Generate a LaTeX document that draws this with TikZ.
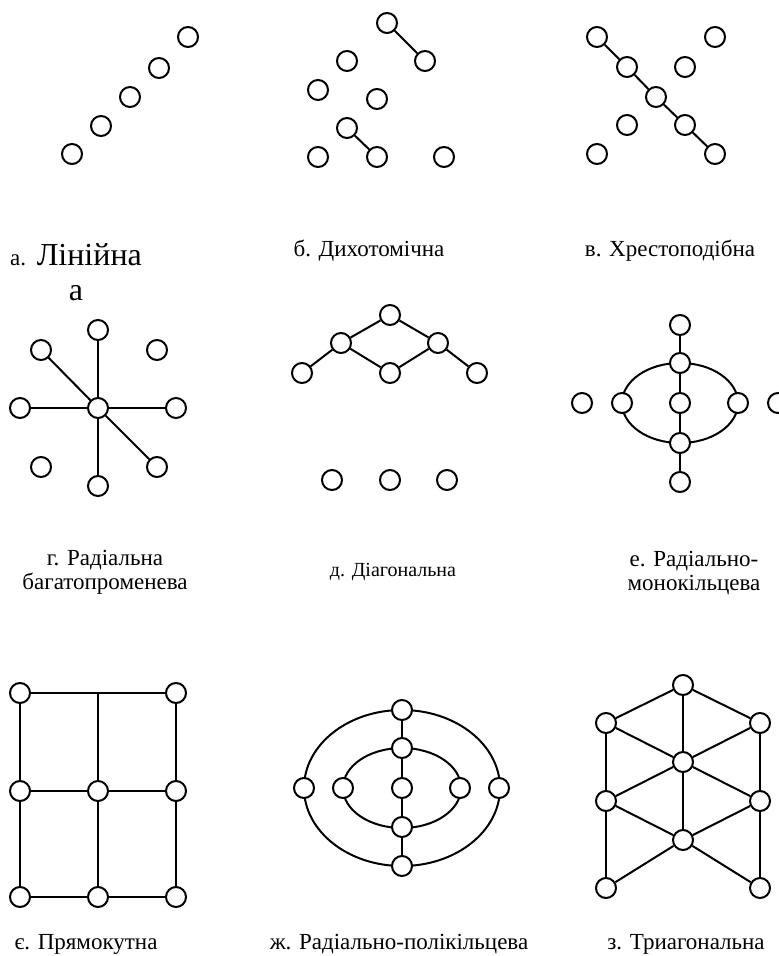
\documentclass[tikz,border=0pt]{standalone}
\usepackage{fontspec}
\setmainfont{Liberation Serif}
\usetikzlibrary{backgrounds}

\begin{document}
\begin{tikzpicture}[
  x=0.5pt, y=-0.5pt,
  vert/.style={circle, draw, fill=white, line width=1pt, minimum size=10pt, inner sep=0pt},
  link/.style={line width=1pt},
  caption/.style={align=center, inner sep=0pt, font=\fontsize{11.5}{12}\selectfont},
  bigcap/.style={caption, font=\fontsize{16}{17.5}\selectfont},
  smallcap/.style={caption, font=\fontsize{10}{12}\selectfont}
]
  \useasboundingbox (0,0) rectangle (779,956);

  \node[vert] (lin1) at (72,154) {};
  \node[vert] (lin2) at (101,126) {};
  \node[vert] (lin3) at (130,97) {};
  \node[vert] (lin4) at (159,68) {};
  \node[vert] (lin5) at (188,37) {};
  \node[bigcap] (caplin) at (76,272) {{\fontsize{11.5}{12}\selectfont а.} Лінійна\\а};

  \node[vert] (dich1) at (387,23) {};
  \node[vert] (dich2) at (425,61) {};
  \node[vert] (dich3) at (347,61) {};
  \node[vert] (dich4) at (318,90) {};
  \node[vert] (dich5) at (377,99) {};
  \node[vert] (dich6) at (347,128) {};
  \node[vert] (dich7) at (318,157) {};
  \node[vert] (dich8) at (377,157) {};
  \node[vert] (dich9) at (444,157) {};
  \node[caption] (capdich) at (369,251) {б. Дихотомічна};

  \draw[link] (dich1) -- (dich2);
  \draw[link] (dich6) -- (dich8);

  \node[vert] (cross1) at (597,37) {};
  \node[vert] (cross2) at (715,37) {};
  \node[vert] (cross3) at (627,67) {};
  \node[vert] (cross4) at (685,67) {};
  \node[vert] (cross5) at (656,97) {};
  \node[vert] (cross6) at (627,125) {};
  \node[vert] (cross7) at (685,125) {};
  \node[vert] (cross8) at (597,154) {};
  \node[vert] (cross9) at (715,154) {};
  \node[caption] (capcross) at (670,251) {в. Хрестоподібна};

  \draw[link] (cross1) -- (cross3);
  \draw[link] (cross3) -- (cross5);
  \draw[link] (cross5) -- (cross7);
  \draw[link] (cross7) -- (cross9);

  \node[vert] (star0) at (98,408) {};
  \node[vert] (star1) at (98,330) {};
  \node[vert] (star2) at (41,350) {};
  \node[vert] (star3) at (157,350) {};
  \node[vert] (star4) at (20,408) {};
  \node[vert] (star5) at (176,408) {};
  \node[vert] (star6) at (41,467) {};
  \node[vert] (star7) at (157,467) {};
  \node[vert] (star8) at (98,486) {};
  \node[caption] (capstar) at (105,572) {г. Радіальна\\багатопроменева};

  \draw[link] (star0) -- (star1);
  \draw[link] (star0) -- (star2);
  \draw[link] (star0) -- (star4);
  \draw[link] (star0) -- (star5);
  \draw[link] (star0) -- (star7);
  \draw[link] (star0) -- (star8);

  \node[vert] (diag1) at (390,315) {};
  \node[vert] (diag2) at (341,343) {};
  \node[vert] (diag3) at (438,343) {};
  \node[vert] (diag4) at (302,373) {};
  \node[vert] (diag5) at (390,373) {};
  \node[vert] (diag6) at (477,373) {};
  \node[vert] (diag7) at (332,480) {};
  \node[vert] (diag8) at (390,480) {};
  \node[vert] (diag9) at (447,480) {};
  \node[smallcap] (capdiag) at (393,572) {д. Діагональна};

  \draw[link] (diag4) -- (diag2);
  \draw[link] (diag2) -- (diag1);
  \draw[link] (diag1) -- (diag3);
  \draw[link] (diag3) -- (diag6);
  \draw[link] (diag2) -- (diag5);
  \draw[link] (diag5) -- (diag3);

  \node[vert] (mono1) at (680,325) {};
  \node[vert] (mono2) at (680,363) {};
  \node[vert] (mono3) at (582,403) {};
  \node[vert] (mono4) at (622,403) {};
  \node[vert] (mono5) at (680,403) {};
  \node[vert] (mono6) at (738,403) {};
  \node[vert] (mono7) at (778,403) {};
  \node[vert] (mono8) at (680,443) {};
  \node[vert] (mono9) at (680,482) {};
  \node[caption] (capmono) at (694,573) {е. Радіально-\\монокільцева};

  \draw[link] (mono1) -- (mono2);
  \draw[link] (mono2) -- (mono5);
  \draw[link] (mono5) -- (mono8);
  \draw[link] (mono8) -- (mono9);
  \begin{scope}[on background layer]
    \draw[link] (mono5.center) ellipse [x radius=29pt, y radius=20pt];
  \end{scope}

  \node[vert] (rect1) at (20,693) {};
  \node[vert] (rect2) at (176,693) {};
  \node[vert] (rect3) at (20,791) {};
  \node[vert] (rect4) at (98,791) {};
  \node[vert] (rect5) at (176,791) {};
  \node[vert] (rect6) at (20,897) {};
  \node[vert] (rect7) at (98,897) {};
  \node[vert] (rect8) at (176,897) {};
  \coordinate (recttop) at (98,693);
  \node[caption] (caprect) at (86,944) {є. Прямокутна};

  \draw[link] (rect1) -- (rect2);
  \draw[link] (rect3) -- (rect4);
  \draw[link] (rect4) -- (rect5);
  \draw[link] (rect6) -- (rect7);
  \draw[link] (rect7) -- (rect8);
  \draw[link] (rect1) -- (rect3);
  \draw[link] (rect3) -- (rect6);
  \draw[link] (rect2) -- (rect5);
  \draw[link] (rect5) -- (rect8);
  \draw[link] (recttop) -- (rect4);
  \draw[link] (rect4) -- (rect7);

  \node[vert] (poly1) at (402,710) {};
  \node[vert] (poly2) at (402,748) {};
  \node[vert] (poly3) at (304,788) {};
  \node[vert] (poly4) at (343,788) {};
  \node[vert] (poly5) at (402,788) {};
  \node[vert] (poly6) at (460,788) {};
  \node[vert] (poly7) at (499,788) {};
  \node[vert] (poly8) at (402,827) {};
  \node[vert] (poly9) at (402,866) {};
  \node[caption] (cappoly) at (399,944) {ж. Радіально-полікільцева};

  \draw[link] (poly1) -- (poly2);
  \draw[link] (poly2) -- (poly5);
  \draw[link] (poly5) -- (poly8);
  \draw[link] (poly8) -- (poly9);
  \begin{scope}[on background layer]
    \draw[link] (poly5.center) ellipse [x radius=49pt, y radius=39pt];
    \draw[link] (poly5.center) ellipse [x radius=29.5pt, y radius=20pt];
  \end{scope}

  \node[vert] (tri1) at (683,685) {};
  \node[vert] (tri2) at (606,723) {};
  \node[vert] (tri3) at (760,723) {};
  \node[vert] (tri4) at (683,762) {};
  \node[vert] (tri5) at (606,801) {};
  \node[vert] (tri6) at (760,801) {};
  \node[vert] (tri7) at (683,840) {};
  \node[vert] (tri8) at (606,888) {};
  \node[vert] (tri9) at (760,888) {};
  \node[caption] (captri) at (686,944) {з. Триагональна};

  \draw[link] (tri1) -- (tri2);
  \draw[link] (tri1) -- (tri3);
  \draw[link] (tri1) -- (tri4);
  \draw[link] (tri2) -- (tri4);
  \draw[link] (tri3) -- (tri4);
  \draw[link] (tri2) -- (tri5);
  \draw[link] (tri3) -- (tri6);
  \draw[link] (tri4) -- (tri5);
  \draw[link] (tri4) -- (tri6);
  \draw[link] (tri4) -- (tri7);
  \draw[link] (tri5) -- (tri7);
  \draw[link] (tri6) -- (tri7);
  \draw[link] (tri5) -- (tri8);
  \draw[link] (tri6) -- (tri9);
  \draw[link] (tri7) -- (tri8);
  \draw[link] (tri7) -- (tri9);
\end{tikzpicture}
\end{document}
